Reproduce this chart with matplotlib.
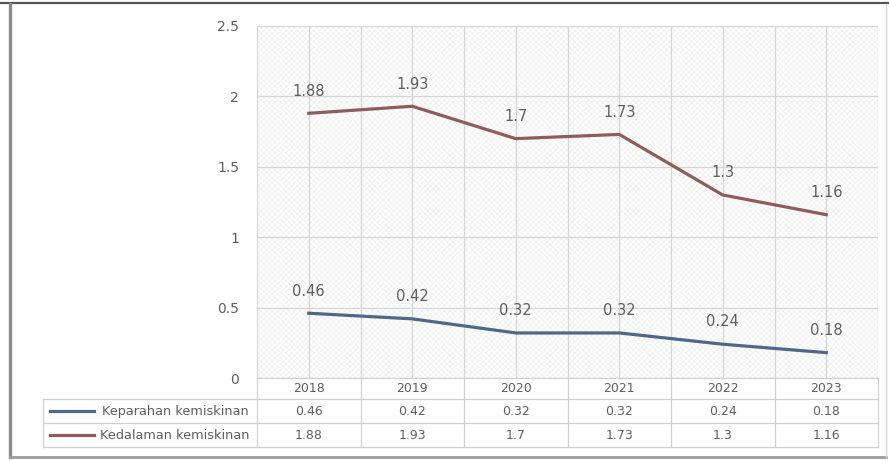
import matplotlib
matplotlib.use("Agg")
import matplotlib.pyplot as plt
from matplotlib.patches import Rectangle
from matplotlib.lines import Line2D

years = ["2018", "2019", "2020", "2021", "2022", "2023"]
keparahan = [0.46, 0.42, 0.32, 0.32, 0.24, 0.18]
kedalaman = [1.88, 1.93, 1.7, 1.73, 1.3, 1.16]
series_names = ["Keparahan kemiskinan", "Kedalaman kemiskinan"]
yticks = [0, 0.5, 1, 1.5, 2, 2.5]
ytick_labels = ["0", "0.5", "1", "1.5", "2", "2.5"]

plt.rcParams['font.family'] = ['DejaVu Sans']
plt.rcParams['hatch.linewidth'] = 0.5
TXT = '#5f5f5f'
BLUE = '#4d6889'
RED = '#8e5d5a'
GRID = '#d6d6d6'
TGRID = '#d0d0d0'

W, H = 889, 461
fig = plt.figure(figsize=(W / 100, H / 100), dpi=100)

def px(x0, y0, x1, y1):
    return [x0 / W, 1 - y1 / H, (x1 - x0) / W, (y1 - y0) / H]

def fline(xs, ys, color, lw):
    fig.add_artist(Line2D([v / W for v in xs], [1 - v / H for v in ys],
                          transform=fig.transFigure, color=color, linewidth=lw))

# screenshot border
fline([0, W], [3, 3], '#555555', 1.6)
fline([10, 10], [4, 457], '#8a8a8a', 2.4)
fline([10, 886], [457, 457], '#9a9a9a', 2.0)
fline([886, 886], [4, 457], '#d8d8d8', 1.0)

AX_L, AX_T, AX_R, AX_B = 257, 26, 878, 378
ax = fig.add_axes(px(AX_L, AX_T, AX_R, AX_B))
AW, AH = AX_R - AX_L, AX_B - AX_T
n = len(years)
x = list(range(n))
ax.set_xlim(-0.5, n - 0.5)
ax.set_ylim(0, 2.5)

# hatched background
ax.add_patch(Rectangle((0, 0), 1, 1, transform=ax.transAxes, facecolor='white',
                       edgecolor='#eeeeee', hatch='xxxxxx', linewidth=0, zorder=0))

for yv in yticks:
    ax.axhline(yv, color=GRID, linewidth=0.9, zorder=1)
for i in range(2 * n + 1):
    ax.axvline(-0.5 + i * 0.5, color=GRID, linewidth=0.9, zorder=1)

ax.plot(x, keparahan, color=BLUE, linewidth=2.3, zorder=3)
ax.plot(x, kedalaman, color=RED, linewidth=2.3, zorder=3)

for series in (keparahan, kedalaman):
    for xi, v in zip(x, series):
        ax.annotate(f"{v:g}", (xi, v), xytext=(0, 16), textcoords='offset points',
                    ha='center', va='center', fontsize=10.5, color=TXT)

ax.set_xticks([])
ax.set_yticks(yticks)
ax.set_yticklabels(ytick_labels, fontsize=10, color=TXT)
ax.tick_params(axis='y', length=0, pad=13)
for s in ax.spines.values():
    s.set_visible(False)

# ---- data table drawn below the axes (x in data units, y in axes fraction)
tr = ax.get_xaxis_transform()
def xd(p):          # pixel column -> data x
    return -0.5 + (p - AX_L) / AW * n
def ya(p):          # pixel row -> axes fraction y
    return (AX_B - p) / AH

row_edges = [378, 399, 423, 447]
tab_left = xd(43)
ax.plot([-0.5, n - 0.5], [ya(row_edges[0])] * 2, transform=tr, color=TGRID,
        lw=0.9, clip_on=False)
for r in row_edges[1:]:
    ax.plot([tab_left, n - 0.5], [ya(r)] * 2, transform=tr, color=TGRID,
            lw=0.9, clip_on=False)
ax.plot([tab_left, tab_left], [ya(row_edges[1]), ya(row_edges[3])], transform=tr,
        color=TGRID, lw=0.9, clip_on=False)
for i in range(n + 1):
    ax.plot([i - 0.5, i - 0.5], [ya(row_edges[0]), ya(row_edges[3])], transform=tr,
            color=TGRID, lw=0.9, clip_on=False)

def ymid(k):
    return ya((row_edges[k] + row_edges[k + 1]) / 2)

for xi, yr in zip(x, years):
    ax.text(xi, ymid(0), yr, transform=tr, ha='center', va='center',
            fontsize=9, color=TXT, clip_on=False)
for k, (name, series, col) in enumerate(zip(series_names, (keparahan, kedalaman),
                                           (BLUE, RED)), start=1):
    for xi, v in zip(x, series):
        ax.text(xi, ymid(k), f"{v:g}", transform=tr, ha='center', va='center',
                fontsize=9, color=TXT, clip_on=False)
    ax.text(xd(249), ymid(k), name, transform=tr, ha='right', va='center',
            fontsize=9.3, color=TXT, clip_on=False)
    ax.plot([xd(50), xd(94)], [ymid(k)] * 2, transform=tr, color=col,
            lw=2.3, clip_on=False, zorder=5)

fig.savefig("out.png", dpi=100)
